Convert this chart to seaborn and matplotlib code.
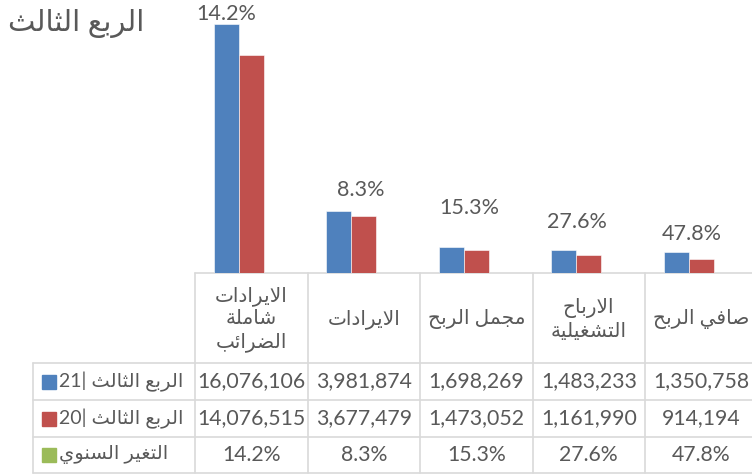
import re
import numpy as np
import pandas as pd
import seaborn as sns
import matplotlib.pyplot as plt
from matplotlib.patches import Rectangle

# === Data ===
categories = ["الايرادات شاملة الضرائب", "الايرادات", "مجمل الربح", "الارباح التشغيلية", "صافي الربح"]
header_lines = [["الايرادات", "شاملة", "الضرائب"], ["الايرادات"], ["مجمل الربح"],
                ["الارباح", "التشغيلية"], ["صافي الربح"]]
series = ["الربع الثالث |21", "الربع الثالث |20", "التغير السنوي"]
q3_21 = [16076106, 3981874, 1698269, 1483233, 1350758]
q3_20 = [14076515, 3677479, 1473052, 1161990, 914194]
yoy_change = [0.142, 0.083, 0.153, 0.276, 0.478]
title = "الربع الثالث"

colors = ["#4F81BD", "#C0504D", "#9BBB59"]
grey = "#595959"
line_col = "#D9D9D9"

# === Arabic shaping (matplotlib has no text shaping) ===
FORMS = {
    '\u0621': (0xFE80, 1), '\u0622': (0xFE81, 2), '\u0623': (0xFE83, 2), '\u0624': (0xFE85, 2),
    '\u0625': (0xFE87, 2), '\u0626': (0xFE89, 4), '\u0627': (0xFE8D, 2), '\u0628': (0xFE8F, 4),
    '\u0629': (0xFE93, 2), '\u062A': (0xFE95, 4), '\u062B': (0xFE99, 4), '\u062C': (0xFE9D, 4),
    '\u062D': (0xFEA1, 4), '\u062E': (0xFEA5, 4), '\u062F': (0xFEA9, 2), '\u0630': (0xFEAB, 2),
    '\u0631': (0xFEAD, 2), '\u0632': (0xFEAF, 2), '\u0633': (0xFEB1, 4), '\u0634': (0xFEB5, 4),
    '\u0635': (0xFEB9, 4), '\u0636': (0xFEBD, 4), '\u0637': (0xFEC1, 4), '\u0638': (0xFEC5, 4),
    '\u0639': (0xFEC9, 4), '\u063A': (0xFECD, 4), '\u0641': (0xFED1, 4), '\u0642': (0xFED5, 4),
    '\u0643': (0xFED9, 4), '\u0644': (0xFEDD, 4), '\u0645': (0xFEE1, 4), '\u0646': (0xFEE5, 4),
    '\u0647': (0xFEE9, 4), '\u0648': (0xFEED, 2), '\u0649': (0xFEEF, 2), '\u064A': (0xFEF1, 4),
}


def shape(text):
    out = []
    i, n = 0, len(text)
    while i < n:
        ch = text[i]
        if ch not in FORMS:
            out.append(ch)
            i += 1
            continue
        prev = text[i - 1] if i > 0 else ''
        prev_joins = prev in FORMS and FORMS[prev][1] == 4
        if ch == '\u0644' and i + 1 < n and text[i + 1] == '\u0627':
            out.append(chr(0xFEFC if prev_joins else 0xFEFB))
            i += 2
            continue
        base, nf = FORMS[ch]
        nxt = text[i + 1] if i + 1 < n else ''
        next_joins = nf == 4 and nxt in FORMS and FORMS[nxt][1] > 1
        if nf == 1:
            out.append(chr(base))
        elif prev_joins and next_joins:
            out.append(chr(base + 3))
        elif prev_joins:
            out.append(chr(base + 1))
        elif next_joins:
            out.append(chr(base + 2))
        else:
            out.append(chr(base))
        i += 1
    return ''.join(out)


def rtl(text):
    runs = re.findall(r'[0-9]+|[^0-9]+', shape(text))
    return ''.join(r if r[0].isdigit() else r[::-1] for r in reversed(runs))


# === Long table for seaborn ===
df = pd.DataFrame({
    "category": categories * 3,
    "series": [s for s in series for _ in categories],
    "value": q3_21 + q3_20 + yoy_change,
})

sns.set_style("white")
plt.rcParams['font.family'] = ['Lato', 'DejaVu Sans']

W, H = 752, 474
fig = plt.figure(figsize=(W / 100, H / 100), dpi=100)

# table layer in pixel coordinates
tab = fig.add_axes([0, 0, 1, 1])
tab.set_xlim(0, W)
tab.set_ylim(H, 0)
tab.axis("off")

left, colw, base_y = 195, 112.5, 273
ax = fig.add_axes([left / W, (H - base_y) / H, colw * 5 / W, base_y / H])
ax.patch.set_alpha(0)

sns.barplot(data=df, x="category", y="value", hue="series", hue_order=series,
            order=categories, palette=colors, width=0.667, saturation=1,
            edgecolor="white", linewidth=0.4, legend=False, ax=ax)
ax.set_ylim(0, 17.6e6)
ax.set_xlim(-0.5, 4.5)
sns.despine(ax=ax, left=True, bottom=True)
ax.set_xticks([])
ax.set_yticks([])
ax.set_xlabel("")
ax.set_ylabel("")

# percent labels above each group (offsets in px: dx from group centre, dy above blue bar)
label_dx = [-25, -3, -7, -12, -9]
label_dy = [10, 21, 39, 28, 18]
for i, (v, p) in enumerate(zip(q3_21, yoy_change)):
    ax.annotate(f"{p * 100:.1f}%", (i, v), xytext=(label_dx[i] * 0.72, label_dy[i] * 0.72),
                textcoords="offset points", ha="center", va="center",
                fontsize=15.5, color=grey)

# title
tab.text(8, 23, rtl(title), ha="left", va="center", fontsize=21, color=grey)

# table grid
rows_y = [273, 363, 400, 437, 473]
edges = [left + colw * k for k in range(6)]
tab.plot([left, W], [rows_y[0]] * 2, color=line_col, lw=1.2)
for y in rows_y[1:]:
    tab.plot([33, W], [y, y], color=line_col, lw=1.2)
tab.plot([33, 33], [rows_y[1], rows_y[-1]], color=line_col, lw=1.2)
for x in edges:
    tab.plot([x, x], [rows_y[0], rows_y[-1]], color=line_col, lw=1.2)

# header row
for k, lines in enumerate(header_lines):
    cx = left + colw * (k + 0.5)
    tab.text(cx, (rows_y[0] + rows_y[1]) / 2 + 1, "\n".join(rtl(t) for t in lines),
             ha="center", va="center", fontsize=14.5, color=grey, linespacing=1.3)

# data rows
row_vals = [[f"{v:,}" for v in q3_21], [f"{v:,}" for v in q3_20],
            [f"{p * 100:.1f}%" for p in yoy_change]]
for r in range(3):
    cy = (rows_y[r + 1] + rows_y[r + 2]) / 2
    tab.add_patch(Rectangle((41.5, cy - 7), 14, 14, color=colors[r]))
    tab.text(59, cy, rtl(series[r]), ha="left", va="center", fontsize=14, color=grey)
    for k, s in enumerate(row_vals[r]):
        tab.text(left + colw * (k + 0.5), cy, s, ha="center", va="center",
                 fontsize=15.3, color=grey)

fig.savefig("out.png", dpi=100)
